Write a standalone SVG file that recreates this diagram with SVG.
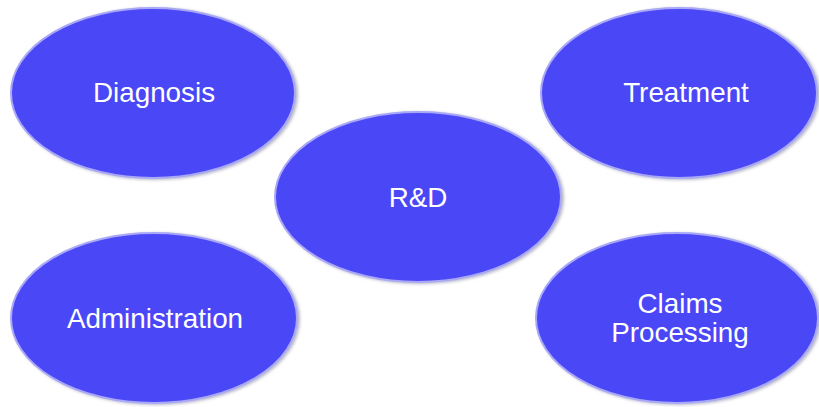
<svg xmlns="http://www.w3.org/2000/svg" width="819" height="407" viewBox="0 0 819 407">
<defs>
<filter id="sh" x="-10%" y="-10%" width="120%" height="120%">
<feGaussianBlur in="SourceAlpha" stdDeviation="1.5"/>
<feOffset dx="2" dy="1" result="b"/>
<feFlood flood-color="#8888a8" flood-opacity="0.6"/>
<feComposite in2="b" operator="in"/>
<feMerge><feMergeNode/><feMergeNode in="SourceGraphic"/></feMerge>
</filter>
</defs>
<style>
.n ellipse{fill:#4a47f6;stroke:#a9a8f6;stroke-width:2;filter:url(#sh)}
.n text{fill:#ffffff;font-family:"Liberation Sans",Arial,sans-serif;font-size:27.8px;text-anchor:middle}
</style>
<rect width="819" height="407" fill="#ffffff"/>
<g id="connectors"/>
<g id="diagnosis" class="n"><ellipse cx="153" cy="93" rx="142" ry="85"/><text x="154" y="102">Diagnosis</text></g>
<g id="treatment" class="n"><ellipse cx="679" cy="93" rx="138" ry="85"/><text x="686" y="102">Treatment</text></g>
<g id="rnd" class="n"><ellipse cx="418" cy="197" rx="143" ry="85"/><text x="418" y="207">R&amp;D</text></g>
<g id="administration" class="n"><ellipse cx="154" cy="318" rx="143" ry="85"/><text x="155" y="328">Administration</text></g>
<g id="claims" class="n"><ellipse cx="677" cy="318" rx="141" ry="85"/><text x="680" y="313">Claims</text><text x="680" y="342">Processing</text></g>
</svg>
